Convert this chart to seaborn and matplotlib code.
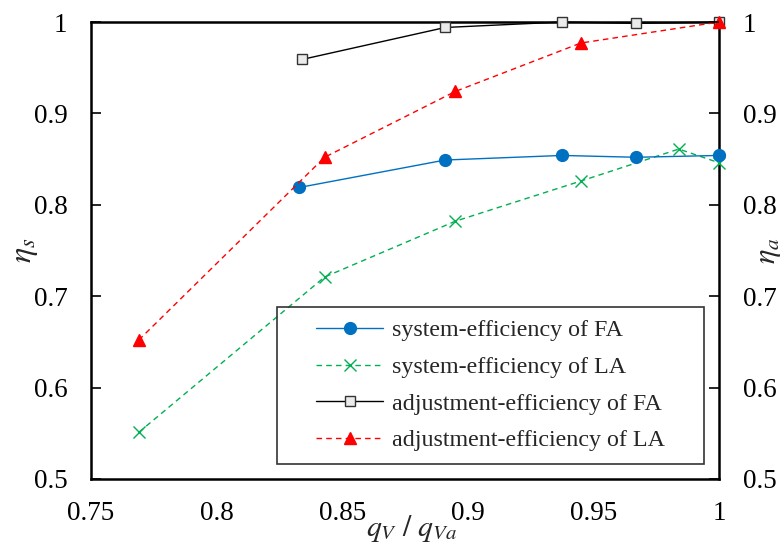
import numpy as np
import pandas as pd
import seaborn as sns
import matplotlib
matplotlib.use("Agg")
import matplotlib.pyplot as plt
from matplotlib.patches import Rectangle

# ---- data ----
fa_sys_x = [0.833, 0.891, 0.9375, 0.967, 1.0]
fa_sys_y = [0.819, 0.849, 0.854, 0.852, 0.854]

la_sys_x = [0.769, 0.843, 0.895, 0.945, 0.984, 1.0]
la_sys_y = [0.551, 0.721, 0.782, 0.826, 0.861, 0.846]

fa_adj_x = [0.834, 0.891, 0.9375, 0.967, 1.0]
fa_adj_y = [0.959, 0.994, 1.0, 0.9985, 1.0]

la_adj_x = [0.769, 0.843, 0.895, 0.945, 1.0]
la_adj_y = [0.652, 0.852, 0.924, 0.977, 1.0]

labels = ["system-efficiency of FA", "system-efficiency of LA",
          "adjustment-efficiency of FA", "adjustment-efficiency of LA"]

x_ticks = [0.75, 0.8, 0.85, 0.9, 0.95, 1.0]
x_ticklabels = ["0.75", "0.8", "0.85", "0.9", "0.95", "1"]
y_ticks = [0.5, 0.6, 0.7, 0.8, 0.9, 1.0]
y_ticklabels = ["0.5", "0.6", "0.7", "0.8", "0.9", "1"]

sns.set_theme(style="white")
plt.rcParams['font.family'] = ['Liberation Serif', 'DejaVu Serif']
plt.rcParams['mathtext.fontset'] = 'stix'

fig = plt.figure(figsize=(7.83, 5.45), dpi=100)
ax = fig.add_axes([91/783, 1 - 479/545, (719-91)/783, (479-22)/545])

dash = (0, (4, 3))
common = dict(ax=ax, linewidth=1.0, markeredgewidth=1.0, clip_on=False)
sns.lineplot(x=fa_sys_x, y=fa_sys_y, color="#0070C0", marker="o", markersize=8.5,
             markeredgecolor="#0070C0", label=labels[0], zorder=5, **common)
sns.lineplot(x=la_sys_x, y=la_sys_y, color="#00B050", marker="x", markersize=8,
             markeredgecolor="#00B050", linestyle=dash, label=labels[1], zorder=4, **common)
sns.lineplot(x=fa_adj_x, y=fa_adj_y, color="black", marker="s", markersize=7.5,
             markerfacecolor="#EBEBEB", markeredgecolor="#333333", label=labels[2], zorder=5, **common)
sns.lineplot(x=la_adj_x, y=la_adj_y, color="#FF0000", marker="^", markersize=9,
             markeredgecolor="#FF0000", linestyle=dash, label=labels[3], zorder=6, **common)

ax.set_xlim(0.75, 1.0)
ax.set_ylim(0.5, 1.0)
ax.set_xticks(x_ticks)
ax.set_xticklabels(x_ticklabels)
ax.set_yticks(y_ticks)
ax.set_yticklabels(y_ticklabels)
ax.tick_params(axis='both', direction='in', length=7, width=1.2, labelsize=19.5, colors='black')
ax.tick_params(axis='y', pad=17)
ax.tick_params(axis='x', pad=16)
for s in ax.spines.values():
    s.set_color('black')
    s.set_linewidth(1.8)

ax.set_ylabel(r'$\eta_s$', fontsize=23)
ax.yaxis.set_label_coords(-0.082, 0.5)
ax.set_xlabel(r'$q_V\ /\ q_{Va}$', fontsize=21.5)
ax.xaxis.set_label_coords(0.51, -0.075)

ax2 = ax.twinx()
ax2.set_ylim(0.5, 1.0)
ax2.set_yticks(y_ticks)
ax2.set_yticklabels(y_ticklabels)
ax2.tick_params(axis='y', direction='in', length=7, width=1.2, labelsize=19.5, colors='black', pad=17)
for s in ax2.spines.values():
    s.set_visible(False)
ax2.set_ylabel(r'$\eta_a$', fontsize=22)
ax2.yaxis.set_label_coords(1.055, 0.50)
ax2.grid(False)
ax.grid(False)

# legend: frame drawn as a rectangle, content centred in it
bx0, by0, bw, bh = 0.296, 0.033, 0.680, 0.3435
ax.add_patch(Rectangle((bx0, by0), bw, bh, transform=ax.transAxes, fill=False,
                       edgecolor='#333333', linewidth=1.2, zorder=7, clip_on=False))
leg = ax.legend(loc='center', bbox_to_anchor=(bx0 + bw / 2, by0 + bh / 2), borderaxespad=0,
                fontsize=17.3, handlelength=2.8, labelspacing=0.62, frameon=False,
                borderpad=0.0, handletextpad=0.35)
leg.set_zorder(8)

fig.savefig("out.png", dpi=100)
